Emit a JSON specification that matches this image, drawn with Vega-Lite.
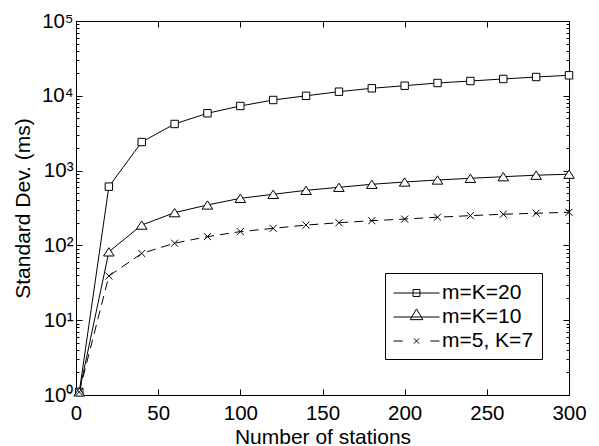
{
  "$schema": "https://vega.github.io/schema/vega-lite/v6.json",
  "width": 493,
  "height": 374,
  "autosize": "none",
  "padding": {"left": 76, "top": 21, "right": 30, "bottom": 51},
  "background": "white",
  "config": {
    "view": {"stroke": "black", "strokeWidth": 1},
    "font": "Liberation Sans",
    "axis": {
      "domainColor": "black", "domainWidth": 1, "tickColor": "black", "tickWidth": 1,
      "labelColor": "black", "titleColor": "black", "labelFont": "Liberation Sans", "titleFont": "Liberation Sans",
      "labelFontSize": 20.5, "titleFontSize": 21, "titleFontWeight": "normal", "grid": false, "labelOverlap": false, "labelFlush": false
    }
  },
  "data": {"values": [
    {"x": 2, "y": 1.1, "s": "m=K=20"},
    {"x": 20, "y": 610, "s": "m=K=20"},
    {"x": 40, "y": 2410, "s": "m=K=20"},
    {"x": 60, "y": 4200, "s": "m=K=20"},
    {"x": 80, "y": 5840, "s": "m=K=20"},
    {"x": 100, "y": 7310, "s": "m=K=20"},
    {"x": 120, "y": 8790, "s": "m=K=20"},
    {"x": 140, "y": 10000, "s": "m=K=20"},
    {"x": 160, "y": 11350, "s": "m=K=20"},
    {"x": 180, "y": 12600, "s": "m=K=20"},
    {"x": 200, "y": 13640, "s": "m=K=20"},
    {"x": 220, "y": 14830, "s": "m=K=20"},
    {"x": 240, "y": 15770, "s": "m=K=20"},
    {"x": 260, "y": 16790, "s": "m=K=20"},
    {"x": 280, "y": 17830, "s": "m=K=20"},
    {"x": 300, "y": 18800, "s": "m=K=20"},
    {"x": 2, "y": 1.1, "s": "m=K=10"},
    {"x": 20, "y": 82, "s": "m=K=10"},
    {"x": 40, "y": 187, "s": "m=K=10"},
    {"x": 60, "y": 274, "s": "m=K=10"},
    {"x": 80, "y": 347, "s": "m=K=10"},
    {"x": 100, "y": 426, "s": "m=K=10"},
    {"x": 120, "y": 482, "s": "m=K=10"},
    {"x": 140, "y": 545, "s": "m=K=10"},
    {"x": 160, "y": 598, "s": "m=K=10"},
    {"x": 180, "y": 656, "s": "m=K=10"},
    {"x": 200, "y": 704, "s": "m=K=10"},
    {"x": 220, "y": 749, "s": "m=K=10"},
    {"x": 240, "y": 789, "s": "m=K=10"},
    {"x": 260, "y": 829, "s": "m=K=10"},
    {"x": 280, "y": 868, "s": "m=K=10"},
    {"x": 300, "y": 895, "s": "m=K=10"},
    {"x": 2, "y": 1.1, "s": "m=5, K=7"},
    {"x": 20, "y": 39, "s": "m=5, K=7"},
    {"x": 40, "y": 78, "s": "m=5, K=7"},
    {"x": 60, "y": 107, "s": "m=5, K=7"},
    {"x": 80, "y": 131, "s": "m=5, K=7"},
    {"x": 100, "y": 153, "s": "m=5, K=7"},
    {"x": 120, "y": 169, "s": "m=5, K=7"},
    {"x": 140, "y": 187, "s": "m=5, K=7"},
    {"x": 160, "y": 201, "s": "m=5, K=7"},
    {"x": 180, "y": 214, "s": "m=5, K=7"},
    {"x": 200, "y": 225, "s": "m=5, K=7"},
    {"x": 220, "y": 238, "s": "m=5, K=7"},
    {"x": 240, "y": 250, "s": "m=5, K=7"},
    {"x": 260, "y": 261, "s": "m=5, K=7"},
    {"x": 280, "y": 269, "s": "m=5, K=7"},
    {"x": 300, "y": 277, "s": "m=5, K=7"}
  ]},
  "layer": [
    {
      "transform": [{"filter": "datum.s !== 'm=5, K=7'"}],
      "mark": {"type": "line", "color": "black", "strokeWidth": 1},
      "encoding": {
        "x": {"field": "x", "type": "quantitative", "scale": {"domain": [0, 300], "nice": false},
          "axis": {"orient": "bottom", "title": "Number of stations", "values": [0, 50, 100, 150, 200, 250, 300], "tickSize": -6, "labelPadding": 14.5, "titlePadding": 2}},
        "y": {"field": "y", "type": "quantitative", "scale": {"type": "log", "domain": [1, 100000], "nice": false},
          "axis": {"orient": "left", "title": "Standard Dev. (ms)", "titlePadding": 8,
            "values": [1,2,3,4,5,6,7,8,9,10,20,30,40,50,60,70,80,90,100,200,300,400,500,600,700,800,900,1000,2000,3000,4000,5000,6000,7000,8000,9000,10000,20000,30000,40000,50000,60000,70000,80000,90000,100000],
            "tickSize": {"condition": {"test": "indexof([1,10,100,1000,10000,100000], datum.value) >= 0", "value": -6}, "value": -3},
            "labelPadding": 9,
            "labelExpr": "indexof([1,10,100,1000,10000,100000], datum.value) >= 0 ? '10' + ['⁰','¹','²','³','⁴','⁵'][round(log(datum.value)/LN10)] : ''"}},
        "detail": {"field": "s"}
      }
    },
    {
      "transform": [{"filter": "datum.s === 'm=5, K=7'"}],
      "mark": {"type": "line", "color": "black", "strokeWidth": 1, "strokeDash": [9, 6]},
      "encoding": {
        "x": {"field": "x", "type": "quantitative", "axis": null},
        "y": {"field": "y", "type": "quantitative", "axis": null}
      }
    },
    {
      "mark": {"type": "point", "fill": "white", "stroke": "black", "strokeWidth": 1, "opacity": 1, "size": 55},
      "encoding": {
        "x": {"field": "x", "type": "quantitative",
          "axis": {"orient": "top", "title": null, "labels": false, "values": [0, 50, 100, 150, 200, 250, 300], "tickSize": -6}},
        "y": {"field": "y", "type": "quantitative",
          "axis": {"orient": "right", "title": null, "labels": false,
            "values": [1,2,3,4,5,6,7,8,9,10,20,30,40,50,60,70,80,90,100,200,300,400,500,600,700,800,900,1000,2000,3000,4000,5000,6000,7000,8000,9000,10000,20000,30000,40000,50000,60000,70000,80000,90000,100000],
            "tickSize": {"condition": {"test": "indexof([1,10,100,1000,10000,100000], datum.value) >= 0", "value": -6}, "value": -3}}},
        "shape": {"field": "s", "type": "nominal",
          "scale": {"domain": ["m=K=20", "m=K=10", "m=5, K=7"], "range": ["square", "M0,-1.12L-1.43,1.12L1.43,1.12Z", "M-0.95,-0.95L0.95,0.95M-0.95,0.95L0.95,-0.95"]},
          "legend": null}
      }
    },
    {
      "transform": [{"filter": "false"}],
      "mark": {"type": "point", "filled": false, "stroke": "black", "strokeWidth": 1, "opacity": 1, "size": 529},
      "encoding": {
        "shape": {"field": "s", "type": "nominal",
          "scale": {"domain": ["m=K=20", "m=K=10", "m=5, K=7"], "range": [
            "M-1,0H3M0.7,-0.3H1.3V0.3H0.7Z",
            "M-1,0H3M1,-0.7L0.45,0.23L1.55,0.23Z",
            "M-1,0H-0.2M2.2,0H3M0.77,-0.23L1.23,0.23M0.77,0.23L1.23,-0.23"]},
          "legend": {"title": null, "orient": "none", "legendX": 309, "legendY": 252,
            "strokeColor": "black", "fillColor": "white", "padding": 8, "rowPadding": 2,
            "labelFont": "Liberation Sans", "labelFontSize": 21, "labelColor": "black", "labelOffset": 25,
            "symbolSize": 529, "symbolStrokeWidth": 1, "symbolStrokeColor": "black", "symbolFillColor": "transparent", "symbolOpacity": 1}}
      }
    }
  ],
  "resolve": {"axis": {"x": "independent", "y": "independent"}, "scale": {"shape": "independent"}, "legend": {"shape": "independent"}}
}
